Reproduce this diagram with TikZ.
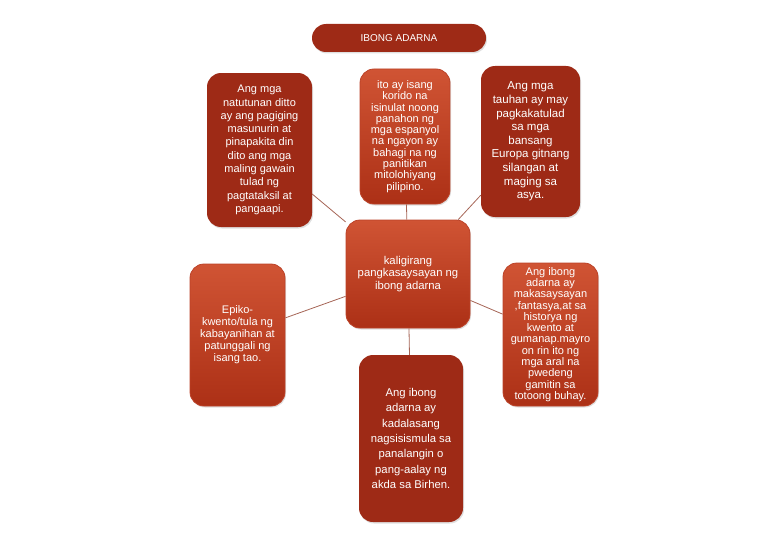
\documentclass[tikz,border=0pt]{standalone}
\usepackage{fontspec}
\setmainfont{Liberation Sans}
\usetikzlibrary{shadows}
\definecolor{flatred}{RGB}{158,42,22}
\definecolor{glosstop}{RGB}{208,84,52}
\definecolor{glossbot}{RGB}{172,48,22}
\definecolor{glossedge}{RGB}{188,66,40}
\definecolor{linkc}{RGB}{165,100,85}
\tikzset{
  boxbase/.style={rounded corners=14pt, text=white, align=center, inner sep=0pt,
    drop shadow={opacity=0.25, shadow xshift=1pt, shadow yshift=-1.5pt}},
  flatbox/.style={boxbase, fill=flatred},
  glossbox/.style={boxbase, draw=glossedge, line width=0.8pt, top color=glosstop, bottom color=glossbot},
  link/.style={draw=linkc, line width=0.8pt}
}
\begin{document}
\begin{tikzpicture}[x=1pt,y=-1pt]
\useasboundingbox (0,0) rectangle (768,543);
\node[flatbox, rounded corners=14pt, minimum width=174pt, minimum height=28pt,
  font=\fontsize{10}{12}\selectfont] (title) at (399,38) {IBONG ADARNA};

\node[glossbox, minimum width=124pt, minimum height=108pt,
  font=\fontsize{11.3}{12.5}\selectfont] (c) at (408,274)
  {kaligirang\\pangkasaysayan ng\\ibong adarna};

\node[flatbox, minimum width=105pt, minimum height=154pt,
  font=\fontsize{11}{13.3}\selectfont] (tl) at (259.5,150)
  {Ang mga\\natutunan ditto\\ay ang pagiging\\masunurin at\\pinapakita din\\dito ang mga\\maling gawain\\tulad ng\\pagtataksil at\\pangaapi.};

\node[glossbox, minimum width=90pt, minimum height=135pt,
  font=\fontsize{11}{11.3}\selectfont] (tc) at (405,136.5)
  {ito ay isang\\korido na\\isinulat noong\\panahon ng\\mga espanyol\\na ngayon ay\\bahagi na ng\\panitikan\\mitolohiyang\\pilipino.};

\node[flatbox, minimum width=99pt, minimum height=151pt,
  font=\fontsize{11.5}{13.6}\selectfont] (tr) at (530.5,141.5)
  {Ang mga\\tauhan ay may\\pagkakatulad\\sa mga\\bansang\\Europa gitnang\\silangan at\\maging sa\\asya.};

\node[glossbox, minimum width=95pt, minimum height=142pt,
  font=\fontsize{11}{12}\selectfont] (l) at (237.5,335)
  {Epiko-\\kwento/tula ng\\kabayanihan at\\patunggali ng\\isang tao.};

\node[glossbox, minimum width=95pt, minimum height=143pt,
  font=\fontsize{11}{11.3}\selectfont] (r) at (550.5,334.5)
  {Ang ibong\\adarna ay\\makasaysayan\\,fantasya,at sa\\historya ng\\kwento at\\gumanap.mayro\\on rin ito ng\\mga aral na\\pwedeng\\gamitin sa\\totoong buhay.};

\node[flatbox, minimum width=104pt, minimum height=167pt,
  font=\fontsize{11.3}{15.3}\selectfont] (b) at (411,438.5)
  {Ang ibong\\adarna ay\\kadalasang\\nagsisismula sa\\panalangin o\\pang-aalay ng\\akda sa Birhen.};

\draw[link] (tl) -- (c);
\draw[link] (tc) -- (c);
\draw[link] (tr) -- (c);
\draw[link] (l) -- (c);
\draw[link] (r) -- (c);
\draw[link] (b) -- (c);
\end{tikzpicture}
\end{document}
